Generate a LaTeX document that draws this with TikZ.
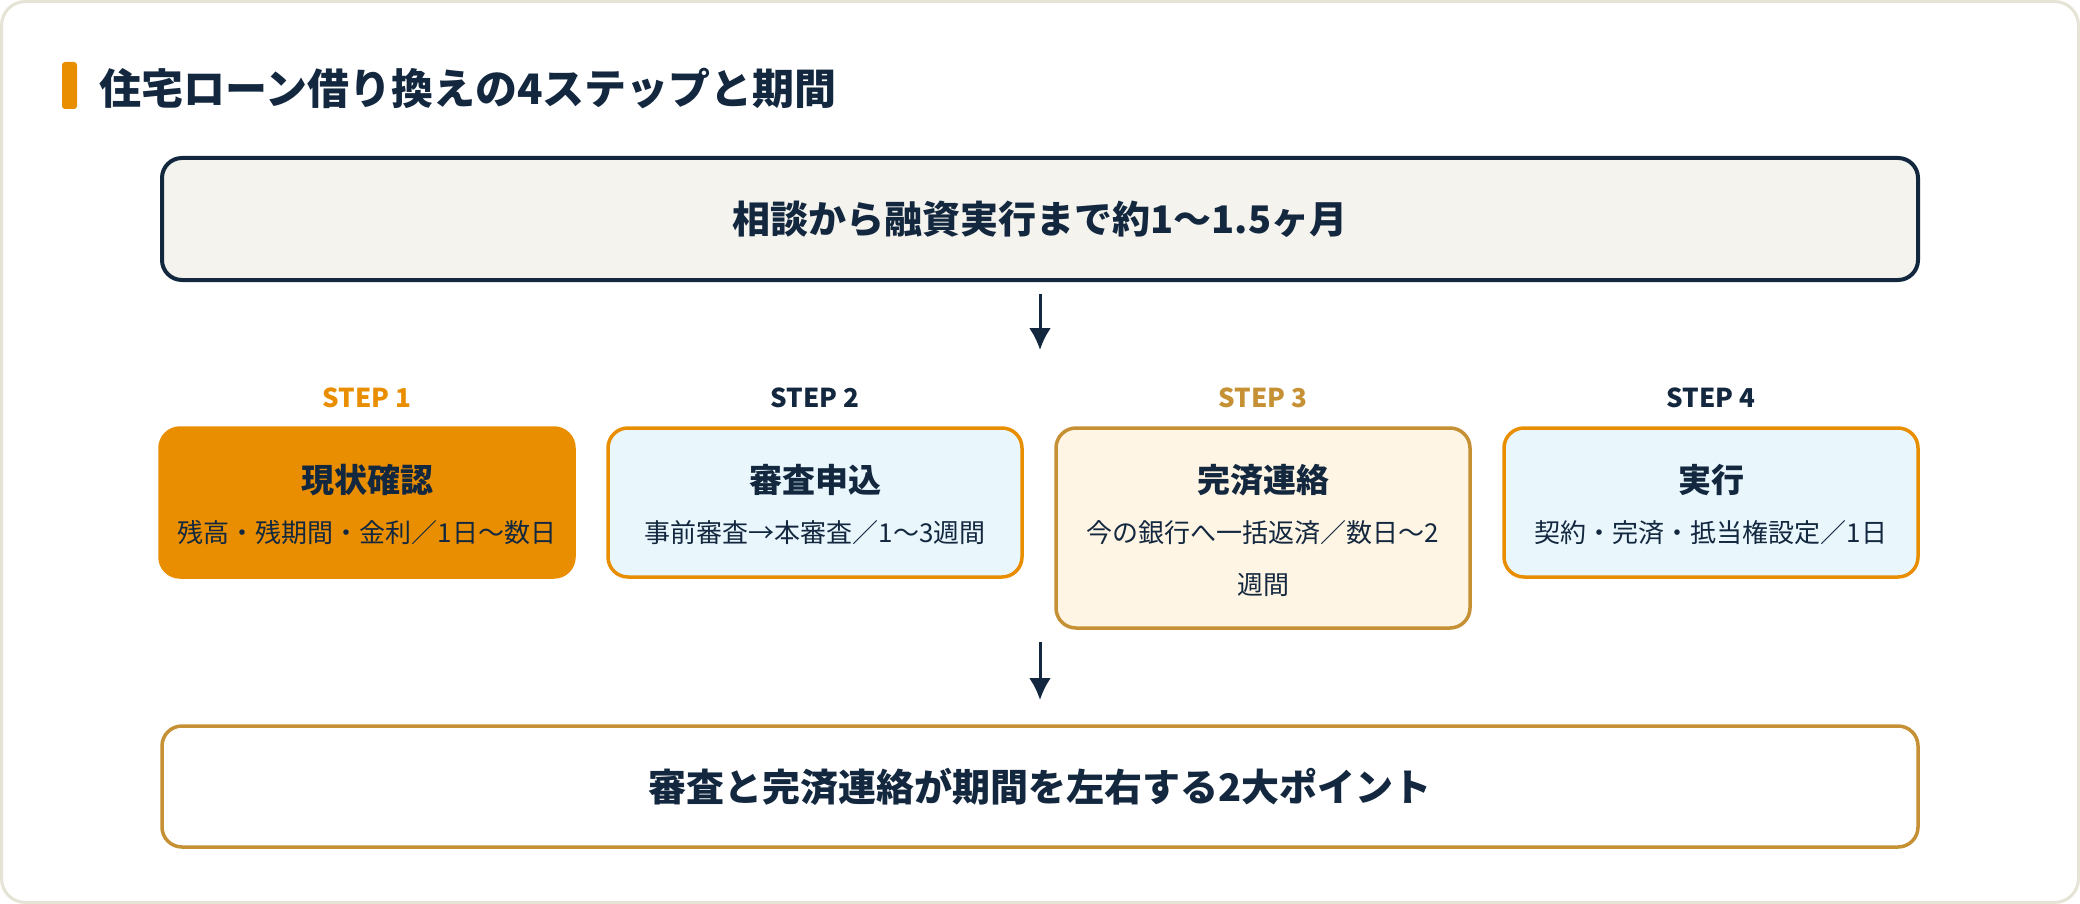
\documentclass[tikz,border=0pt]{standalone}
\usepackage{fontspec}
\setmainfont{Noto Sans CJK JP}
\usetikzlibrary{arrows.meta,positioning}
\definecolor{navy}{HTML}{13283F}
\definecolor{accent}{HTML}{E88E00}
\definecolor{gold}{HTML}{C69034}
\definecolor{sky}{HTML}{E9F7FD}
\definecolor{cream}{HTML}{FFF5E4}
\definecolor{topfill}{HTML}{F5F3EE}
\definecolor{frame}{HTML}{E5E2D6}

\begin{document}
\begin{tikzpicture}[x=1pt,y=-1pt]
\tikzset{card/.style={draw,line width=3.5pt,rounded corners=20pt,minimum width=414pt,minimum height=149pt,inner sep=0pt,outer sep=0pt,anchor=north west},
  wide/.style={draw,line width=3.5pt,rounded corners=20pt,minimum width=1756pt,minimum height=122pt,inner sep=0pt,outer sep=0pt,anchor=north west,text=navy,font=\bfseries\fontsize{38pt}{46pt}\selectfont},
  steplbl/.style={font=\bfseries\fontsize{26pt}{30pt}\selectfont,text=navy},
  cardttl/.style={font=\bfseries\fontsize{33pt}{40pt}\selectfont,text=navy},
  cardsub/.style={font=\fontsize{26pt}{52pt}\selectfont,text=navy,align=center},
  arr/.style={draw=navy,line width=3pt,-{Latex[length=22pt,width=22pt]}}}
\useasboundingbox (0,0) rectangle (2080,904);
\draw[frame,line width=3pt,rounded corners=24pt,fill=white] (1.5,1.5) rectangle (2078.5,902.5);
% title
\fill[accent,rounded corners=3pt] (62,62) rectangle (77,109);
\node[anchor=west,inner sep=0pt,text=navy,font=\bfseries\fontsize{42pt}{50pt}\selectfont] (ttl) at (99,88) {住宅ローン借り換えの4ステップと期間};
% overall period
\node[wide,fill=topfill,draw=navy,line width=4pt] (top) at (162,158) {相談から融資実行まで約1〜1.5ヶ月};
\coordinate (r1) at (1040,350);
\draw[arr,shorten <=14pt] (top.south) -- (r1);
% steps
\node[card,fill=accent,draw=accent] (b1) at (160,428) {};
\node[card,fill=sky,draw=accent] (b2) at (608,428) {};
\node[card,fill=cream,draw=gold,minimum height=200pt] (b3) at (1056,428) {};
\node[card,fill=sky,draw=accent] (b4) at (1504,428) {};
\node[steplbl,text=accent] (s1) at ([yshift=30pt]b1.north) {STEP 1};
\node[steplbl] (s2) at ([yshift=30pt]b2.north) {STEP 2};
\node[steplbl,text=gold] (s3) at ([yshift=30pt]b3.north) {STEP 3};
\node[steplbl] (s4) at ([yshift=30pt]b4.north) {STEP 4};
\node[cardttl] (b1t) at ([yshift=-52pt]b1.north) {現状確認};
\node[cardttl] (b2t) at ([yshift=-52pt]b2.north) {審査申込};
\node[cardttl] (b3t) at ([yshift=-52pt]b3.north) {完済連絡};
\node[cardttl] (b4t) at ([yshift=-52pt]b4.north) {実行};
\node[cardsub] (b1s) at ([yshift=-105pt]b1.north) {残高・残期間・金利／1日〜数日};
\node[cardsub] (b2s) at ([yshift=-105pt]b2.north) {事前審査→本審査／1〜3週間};
\node[cardsub] (b3s) at ([yshift=-131pt]b3.north) {今の銀行へ一括返済／数日〜2\\週間};
\node[cardsub] (b4s) at ([yshift=-105pt]b4.north) {契約・完済・抵当権設定／1日};
% key point
\node[wide,fill=white,draw=gold,minimum height=121pt] (bot) at (162,726) {審査と完済連絡が期間を左右する2大ポイント};
\coordinate (r2) at (1040,642);
\draw[arr,shorten >=26pt] (r2) -- (bot.north);
\end{tikzpicture}
\end{document}
